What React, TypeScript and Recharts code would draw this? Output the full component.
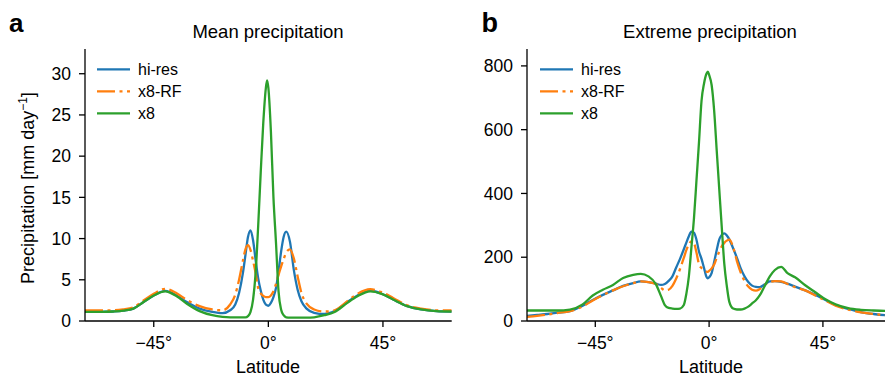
import { LineChart, Line, XAxis, YAxis, Legend } from "recharts";

// latitude grid + zonal means, panel a (mm/day)
const latA = [
  -72, -66, -61, -57, -53, -49, -45, -40.5, -36, -32,
  -27, -22, -18, -15, -13, -11.5, -10, -9, -8, -7,
  -6, -5, -4, -3, -2, -1, -0.5, 0, 1, 2,
  3, 4, 5, 6, 7, 8.5, 10, 11.5, 13, 15,
  18, 22, 26, 31, 35, 40, 44.5, 49, 54.5, 60,
  66, 72,
];
const hiResA = [
  1.1, 1.1, 1.15, 1.25, 1.5, 2.3, 3.1, 3.65, 3.1, 2.3,
  1.5, 1.1, 0.95, 1.3, 2.0, 3.4, 5.8, 8.0, 10.2, 11.0,
  9.8, 7.4, 5.2, 3.7, 2.6, 2.0, 1.9, 1.85, 2.2, 2.9,
  4.0, 6.0, 8.4, 10.2, 10.85, 9.6, 6.2, 3.8, 2.4, 1.5,
  1.0, 0.85, 1.2, 2.3, 3.1, 3.7, 3.3, 2.6, 1.8, 1.4,
  1.2, 1.15,
];
const x8rfA = [
  1.3, 1.3, 1.3, 1.4, 1.65, 2.5, 3.3, 3.9, 3.35, 2.55,
  1.8, 1.4, 1.3, 2.0, 3.2, 5.0, 7.3, 8.7, 9.2, 8.6,
  7.3, 5.8, 4.0, 3.35, 3.05, 2.9, 2.9, 2.9, 3.1, 3.6,
  4.5, 5.6, 6.6, 7.5, 8.3, 8.7, 7.6, 5.4, 3.4, 2.1,
  1.4, 1.15, 1.3, 2.4, 3.3, 3.85, 3.5, 2.8, 1.9, 1.5,
  1.3, 1.3,
];
const x8A = [
  1.1, 1.1, 1.15, 1.25, 1.5, 2.3, 3.1, 3.6, 3.0, 2.1,
  1.2, 0.7, 0.5, 0.45, 0.45, 0.45, 0.45, 0.45, 0.6, 1.1,
  2.6, 5.8, 11.5, 18, 24, 28.2, 29.2, 28.3, 23, 15,
  9.5, 3.6, 1.4, 0.7, 0.45, 0.4, 0.4, 0.4, 0.4, 0.4,
  0.45, 0.7, 1.1, 2.2, 3.0, 3.6, 3.3, 2.6, 1.8, 1.4,
  1.2, 1.15,
];

// panel b (extreme precipitation)
const latB = [
  -72, -68, -64, -60, -55, -50, -46, -42, -38, -34,
  -30, -27, -24, -21, -19, -17.5, -16, -14.5, -13, -11.5,
  -10, -9, -8, -7, -6, -5, -4, -3, -2, -1,
  -0.5, 0, 1, 2, 3, 4, 5, 6, 7, 8,
  9.5, 11, 12.5, 14, 15.5, 17, 18.5, 20, 22, 24,
  26, 28.5, 31, 34, 38, 42, 46, 50, 55, 60,
  65, 70, 72,
];
const hiResB = [
  16, 19, 22, 26, 31, 48, 66, 82, 96, 110,
  119, 124, 122, 117, 113, 116, 126, 140, 168, 195,
  225, 246, 266, 280, 277, 255, 218, 195, 166, 138,
  134, 137, 150, 185, 222, 255, 270, 275, 268, 256,
  228, 198, 165, 140, 122, 111, 107, 106, 115, 124,
  125, 123, 117, 108, 96, 82, 66, 50, 38, 28,
  22, 18, 17,
];
const x8rfB = [
  13, 16, 20, 25, 31, 46, 64, 81, 96, 109,
  119, 124, 122, 116, 104, 96, 98, 110, 133, 163,
  198, 222, 240, 250, 245, 215, 178, 166, 160, 155,
  154, 157, 165, 177, 198, 217, 234, 245, 252, 255,
  232, 188, 152, 126, 108, 98, 95, 100, 114, 122,
  125, 124, 116, 106, 96, 80, 64, 48, 36, 27,
  22, 18, 17,
];
const x8B = [
  33, 33, 33, 33, 36, 52, 80, 98, 113, 135,
  145, 148, 140, 115, 78, 50, 41, 39, 38, 39,
  50, 85, 140, 230, 320, 440, 560, 690, 745, 776,
  782, 772, 740, 660, 536, 415, 295, 180, 110, 60,
  39, 36, 36, 39, 45, 55, 65, 80, 110, 140,
  160, 170, 150, 137, 112, 90, 68, 52, 40, 35,
  33, 32, 32,
];

const latTicks = [-45, 0, 45];
const yTicksA = [0, 5, 10, 15, 20, 25, 30];
const yTicksB = [0, 200, 400, 600, 800];

const rowsA = latA.map((lat, i) => ({ lat, hiRes: hiResA[i], x8rf: x8rfA[i], x8: x8A[i] }));
const rowsB = latB.map((lat, i) => ({ lat, hiRes: hiResB[i], x8rf: x8rfB[i], x8: x8B[i] }));

const FONT = '"Liberation Sans", Arial, Helvetica, sans-serif';
const DASHDOT = "18 4.5 3 4.5";

const series = [
  { key: "hiRes", name: "hi-res", color: "#1f77b4" },
  { key: "x8rf", name: "x8-RF", color: "#ff7f0e", dash: DASHDOT },
  { key: "x8", name: "x8", color: "#2ca02c" },
];

const fmtLat = (v: number) => (v < 0 ? `\u2212${-v}°` : `${v}°`);

function LegendBox() {
  return (
    <svg width={90} height={66} style={{ display: "block" }}>
      {series.map((s, i) => (
        <g key={s.key}>
          <line
            x1={0} x2={33} y1={11.3 + i * 22} y2={11.3 + i * 22}
            stroke={s.color} strokeWidth={2.3} strokeDasharray={s.dash}
          />
          <text x={41} y={16.5 + i * 22} fontSize={16} fill="#000" fontFamily={FONT}>
            {s.name}
          </text>
        </g>
      ))}
    </svg>
  );
}

interface PanelProps {
  rows: typeof rowsA;
  yDomain: [number, number];
  yTicks: number[];
  left: number;
  width: number;
  marginLeft: number;
  marginRight: number;
  legendLeft: number;
}

function Panel({ rows, yDomain, yTicks, left, width, marginLeft, marginRight, legendLeft }: PanelProps) {
  const axisStyle = { stroke: "#000", strokeWidth: 1.3 };
  const tickStyle = { fill: "#000", fontSize: 17.5, fontFamily: FONT };
  return (
    <div style={{ position: "absolute", left, top: 0 }}>
      <LineChart
        width={width} height={377} data={rows}
        margin={{ top: 49, right: marginRight, bottom: 26, left: marginLeft }}
      >
        <XAxis
          dataKey="lat" type="number" domain={[-72, 72]} ticks={latTicks}
          tickFormatter={fmtLat} height={30} tickSize={6} tickMargin={10}
          axisLine={axisStyle} tickLine={axisStyle} tick={tickStyle}
          allowDataOverflow
        />
        <YAxis
          type="number" domain={yDomain} ticks={yTicks} width={50}
          tickSize={6} tickMargin={8}
          axisLine={axisStyle} tickLine={axisStyle} tick={tickStyle}
          allowDataOverflow
        />
        <Legend
          content={() => <LegendBox />}
          layout="vertical" align="center" verticalAlign="middle"
          wrapperStyle={{ left: legendLeft, top: 58, width: 90, height: 66 }}
        />
        {series.map((s) => (
          <Line
            key={s.key} dataKey={s.key} name={s.name} type="monotone"
            stroke={s.color} strokeWidth={2.3} strokeDasharray={s.dash}
            dot={false} activeDot={false} isAnimationActive={false}
          />
        ))}
      </LineChart>
    </div>
  );
}

export default function App() {
  return (
    <div
      style={{
        position: "absolute", left: 0, top: 0, width: 885, height: 377,
        overflow: "hidden", background: "#fff", fontFamily: FONT,
      }}
    >
      <Panel
        rows={rowsA} yDomain={[0, 33]} yTicks={yTicksA}
        left={0} width={460} marginLeft={35} marginRight={8.3} legendLeft={97}
      />
      <Panel
        rows={rowsB} yDomain={[0, 853]} yTicks={yTicksB}
        left={460} width={440} marginLeft={17} marginRight={8.8} legendLeft={80}
      />
      <svg
        width={885} height={377}
        style={{ position: "absolute", left: 0, top: 0, pointerEvents: "none" }}
        fontFamily={FONT} fill="#000"
      >
        <text x={9} y={32} fontSize={26} fontWeight="bold">a</text>
        <text x={481.5} y={32} fontSize={27} fontWeight="bold">b</text>
        <text x={268} y={37.5} fontSize={18.5} textAnchor="middle">Mean precipitation</text>
        <text x={710} y={37.5} fontSize={18.5} textAnchor="middle">Extreme precipitation</text>
        <text x={268} y={372.5} fontSize={18} textAnchor="middle">Latitude</text>
        <text x={711} y={372.5} fontSize={18} textAnchor="middle">Latitude</text>
        <text transform="translate(33.5 188) rotate(-90)" fontSize={18} textAnchor="middle">
          Precipitation [mm day<tspan dy={-7} fontSize={12}>{"\u22121"}</tspan>
          <tspan dy={7}>]</tspan>
        </text>
      </svg>
    </div>
  );
}
